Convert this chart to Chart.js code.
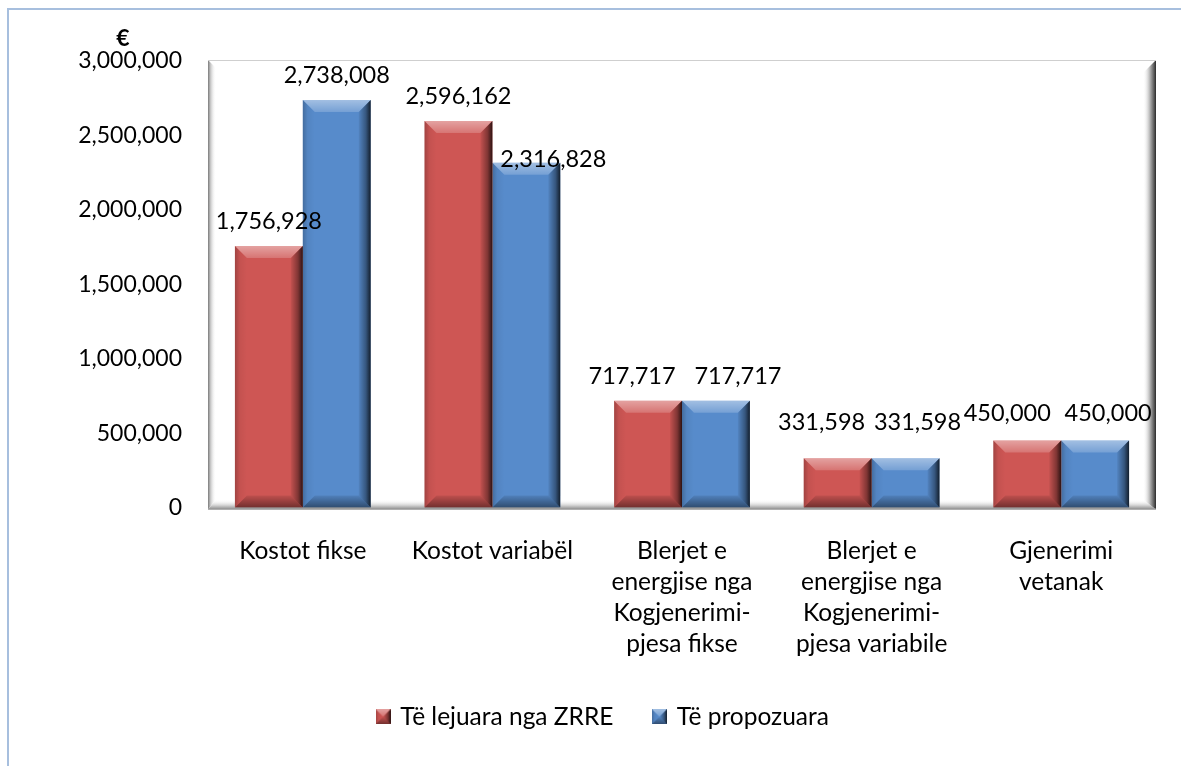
<!DOCTYPE html>
<html>
<head>
<meta charset="utf-8">
<script src="https://cdn.jsdelivr.net/npm/chart.js@4.4.0/dist/chart.umd.min.js"></script>
<style>
  html, body { margin: 0; padding: 0; background: #ffffff; }
  #grafico { display: block; }
</style>
</head>
<body>
<canvas id="grafico" width="1181" height="766"></canvas>
<script>
// kategorite (etiketat e boshtit x, ne rreshta)
const kategorite = [
    ['Kostot fikse'],
    ['Kostot variabël'],
    ['Blerjet e', 'energjise nga', 'Kogjenerimi-', 'pjesa fikse'],
    ['Blerjet e', 'energjise nga', 'Kogjenerimi-', 'pjesa variabile'],
    ['Gjenerimi', 'vetanak']
];
const emrat = ['Të lejuara nga ZRRE', 'Të propozuara'];
const teLejuara = [1756928, 2596162, 717717, 331598, 450000];
const tePropozuara = [2738008, 2316828, 717717, 331598, 450000];
const yMax = 3000000;
const yHapi = 500000;
const njesia = '€';

const ngjyraKuqe = '#CE5654';
const ngjyraBlu = '#578BCB';
const FONT = 'Lato, "Noto Sans", sans-serif';

function formatoNumrin(v) {
    return Number(v).toLocaleString('en-US');
}

// bevel per nje drejtkendesh (shtylla ose katrori i legjendes)
function vizatoBevel(ctx, left, top, right, bottom, b) {
    const h = bottom - top;
    const w = right - left;
    if (b * 2 > h) b = Math.max(1, h / 2);
    if (b * 2 > w) b = Math.max(1, w / 2);

    // ana e siperme, me e ndritshme
    let g = ctx.createLinearGradient(0, top, 0, top + b);
    g.addColorStop(0, 'rgba(255,255,255,0.45)');
    g.addColorStop(1, 'rgba(255,255,255,0.18)');
    ctx.fillStyle = g;
    ctx.beginPath();
    ctx.moveTo(left, top);
    ctx.lineTo(right, top);
    ctx.lineTo(right - b, top + b);
    ctx.lineTo(left + b, top + b);
    ctx.closePath();
    ctx.fill();

    // ana e majte, pak me e erret
    g = ctx.createLinearGradient(left, 0, left + b, 0);
    g.addColorStop(0, 'rgba(0,0,0,0.22)');
    g.addColorStop(0.4, 'rgba(0,0,0,0.05)');
    g.addColorStop(1, 'rgba(0,0,0,0)');
    ctx.fillStyle = g;
    ctx.beginPath();
    ctx.moveTo(left, top);
    ctx.lineTo(left + b, top + b);
    ctx.lineTo(left + b, bottom - b);
    ctx.lineTo(left, bottom);
    ctx.closePath();
    ctx.fill();

    // ana e djathte, e erret
    g = ctx.createLinearGradient(right - b, 0, right, 0);
    g.addColorStop(0, 'rgba(0,0,0,0.05)');
    g.addColorStop(0.6, 'rgba(0,0,0,0.38)');
    g.addColorStop(1, 'rgba(0,0,0,0.78)');
    ctx.fillStyle = g;
    ctx.beginPath();
    ctx.moveTo(right, top);
    ctx.lineTo(right, bottom);
    ctx.lineTo(right - b, bottom - b);
    ctx.lineTo(right - b, top + b);
    ctx.closePath();
    ctx.fill();

    // ana e poshtme
    g = ctx.createLinearGradient(0, bottom - b, 0, bottom);
    g.addColorStop(0, 'rgba(0,0,0,0.08)');
    g.addColorStop(1, 'rgba(0,0,0,0.45)');
    ctx.fillStyle = g;
    ctx.beginPath();
    ctx.moveTo(left, bottom);
    ctx.lineTo(right, bottom);
    ctx.lineTo(right - b, bottom - b);
    ctx.lineTo(left + b, bottom - b);
    ctx.closePath();
    ctx.fill();
}

function katrorLegjende(ngjyra) {
    const c = document.createElement('canvas');
    c.width = 15;
    c.height = 15;
    const cx = c.getContext('2d');
    cx.fillStyle = ngjyra;
    cx.fillRect(0, 0, 15, 15);
    vizatoBevel(cx, 0, 0, 15, 15, 7);
    return c;
}

// korniza e zones se grafikut (efekt 3D si ne Excel)
const kornizaPlugin = {
    id: 'korniza',
    beforeDraw(chart) {
        const ctx = chart.ctx;
        ctx.save();
        ctx.fillStyle = '#ffffff';
        ctx.fillRect(0, 0, chart.width, chart.height);
        // vija e kalter rreth grafikut
        ctx.strokeStyle = '#A7BFDE';
        ctx.lineWidth = 2;
        ctx.beginPath();
        ctx.moveTo(8, chart.height);
        ctx.lineTo(8, 9);
        ctx.lineTo(chart.width, 9);
        ctx.stroke();
        ctx.restore();
    },
    beforeDatasetsDraw(chart) {
        const ctx = chart.ctx;
        const a = chart.chartArea;
        const L = a.left, R = a.right, T = a.top - 1, B = a.bottom + 2;
        const bl = 8, br = 13, bb = 10;
        ctx.save();
        ctx.fillStyle = '#ffffff';
        ctx.fillRect(L, T, R - L, B - T);

        // muri i majte
        let g = ctx.createLinearGradient(L, 0, L + bl, 0);
        g.addColorStop(0, '#7a7a7a');
        g.addColorStop(0.3, '#c4c4c4');
        g.addColorStop(1, 'rgba(255,255,255,0)');
        ctx.fillStyle = g;
        ctx.beginPath();
        ctx.moveTo(L, T);
        ctx.lineTo(L + bl, T + bl);
        ctx.lineTo(L + bl, B - bb);
        ctx.lineTo(L, B);
        ctx.closePath();
        ctx.fill();

        // dyshemeja
        g = ctx.createLinearGradient(0, B - bb, 0, B);
        g.addColorStop(0, 'rgba(255,255,255,0)');
        g.addColorStop(0.6, '#d0d0d0');
        g.addColorStop(1, '#8a8a8a');
        ctx.fillStyle = g;
        ctx.beginPath();
        ctx.moveTo(L, B);
        ctx.lineTo(R, B);
        ctx.lineTo(R - br, B - bb);
        ctx.lineTo(L + bl, B - bb);
        ctx.closePath();
        ctx.fill();

        // muri i djathte
        g = ctx.createLinearGradient(R - br, 0, R, 0);
        g.addColorStop(0, 'rgba(255,255,255,0)');
        g.addColorStop(0.5, '#bdbdbd');
        g.addColorStop(0.85, '#5a5a5a');
        g.addColorStop(1, '#2a2a2a');
        ctx.fillStyle = g;
        ctx.beginPath();
        ctx.moveTo(R, T);
        ctx.lineTo(R, B);
        ctx.lineTo(R - br, B - bb);
        ctx.lineTo(R - br, T + br);
        ctx.closePath();
        ctx.fill();

        // vija e siperme
        ctx.strokeStyle = '#cfcfcf';
        ctx.lineWidth = 1;
        ctx.beginPath();
        ctx.moveTo(L, T + 0.5);
        ctx.lineTo(R, T + 0.5);
        ctx.stroke();
        // vija e poshtme
        ctx.strokeStyle = '#9a9a9a';
        ctx.beginPath();
        ctx.moveTo(L, B - 0.5);
        ctx.lineTo(R, B - 0.5);
        ctx.stroke();
        ctx.restore();
    }
};

// bevel mbi shtyllat
const bevelPlugin = {
    id: 'bevelShtyllat',
    afterDatasetsDraw(chart) {
        const ctx = chart.ctx;
        ctx.save();
        chart.data.datasets.forEach((ds, i) => {
            const meta = chart.getDatasetMeta(i);
            meta.data.forEach((bar) => {
                const p = bar.getProps(['x', 'y', 'base', 'width'], true);
                vizatoBevel(ctx, p.x - p.width / 2, p.y, p.x + p.width / 2, p.base, 12);
            });
        });
        ctx.restore();
    }
};

// etiketat e vlerave mbi shtylla
const etiketaPlugin = {
    id: 'etiketat',
    afterDraw(chart, args, opts) {
        const ctx = chart.ctx;
        const zhvendosjet = opts.zhvendosjet || {};
        ctx.save();
        ctx.font = '23.5px ' + FONT;
        ctx.fillStyle = '#000000';
        ctx.textAlign = 'center';
        ctx.textBaseline = 'middle';
        chart.data.datasets.forEach((ds, i) => {
            const meta = chart.getDatasetMeta(i);
            meta.data.forEach((bar, j) => {
                const z = zhvendosjet[i + '-' + j] || [0, 25];
                ctx.fillText(formatoNumrin(ds.data[j]), bar.x + z[0], bar.y - z[1]);
            });
        });

        // njesia mbi boshtin y
        const y = chart.scales.y;
        ctx.font = 'bold 23px ' + FONT;
        ctx.fillText(njesia, y.right - 85, chart.chartArea.top - 22);
        ctx.restore();
    }
};

const ctx = document.getElementById('grafico');

new Chart(ctx, {
    type: 'bar',
    data: {
        labels: kategorite,
        datasets: [{
            label: emrat[0],
            data: teLejuara,
            backgroundColor: ngjyraKuqe,
            borderWidth: 0,
            pointStyle: katrorLegjende(ngjyraKuqe)
        }, {
            label: emrat[1],
            data: tePropozuara,
            backgroundColor: ngjyraBlu,
            borderWidth: 0,
            pointStyle: katrorLegjende(ngjyraBlu)
        }]
    },
    options: {
        responsive: false,
        animation: false,
        devicePixelRatio: 1,
        layout: {
            padding: { top: 61, right: 25, bottom: 27, left: 51 }
        },
        datasets: {
            bar: {
                barPercentage: 1,
                categoryPercentage: 0.716
            }
        },
        scales: {
            x: {
                grid: { display: false, drawTicks: false },
                border: { display: false },
                ticks: {
                    autoSkip: false,
                    maxRotation: 0,
                    minRotation: 0,
                    padding: 28,
                    color: '#000000',
                    font: { family: FONT, size: 24.5, lineHeight: 31 / 24.5 }
                },
                afterFit(scale) { scale.height = 156; }
            },
            y: {
                min: 0,
                max: yMax,
                grid: { display: false, drawTicks: false },
                border: { display: false },
                ticks: {
                    stepSize: yHapi,
                    padding: 26,
                    color: '#000000',
                    font: { family: FONT, size: 23 },
                    callback: (v) => formatoNumrin(v)
                },
                afterFit(scale) { scale.width = 157; }
            }
        },
        plugins: {
            legend: {
                position: 'bottom',
                labels: {
                    usePointStyle: true,
                    pointStyleWidth: 10,
                    color: '#000000',
                    padding: 41,
                    font: { family: FONT, size: 24.5 }
                }
            },
            tooltip: { enabled: false },
            etiketat: {
                zhvendosjet: {
                    '1-1': [27, 3],
                    '0-2': [-16, 24],
                    '1-2': [22, 24],
                    '0-3': [-16, 36],
                    '1-3': [12, 36],
                    '0-4': [-20, 27],
                    '1-4': [13, 27]
                }
            }
        }
    },
    plugins: [kornizaPlugin, bevelPlugin, etiketaPlugin]
});
</script>
</body>
</html>
